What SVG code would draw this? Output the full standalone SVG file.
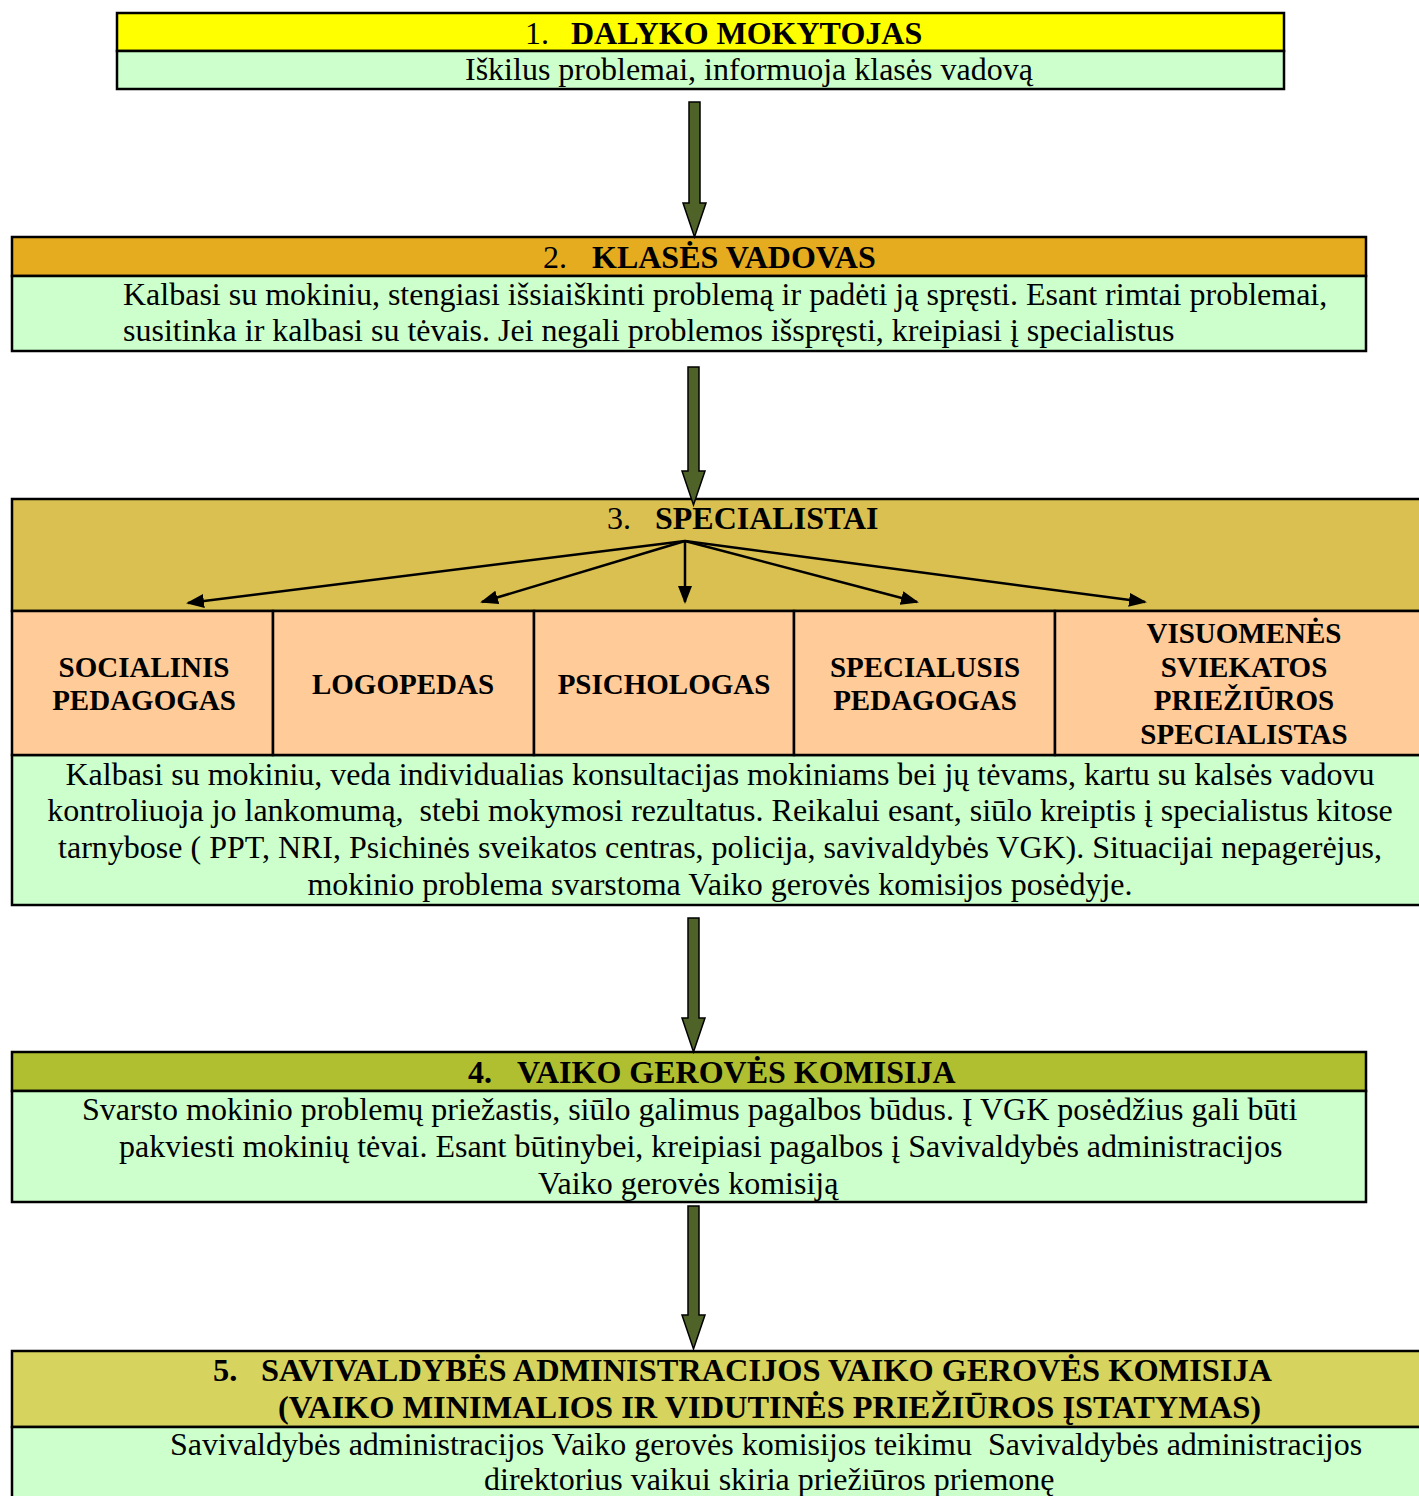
<svg xmlns="http://www.w3.org/2000/svg" width="1419" height="1496" viewBox="0 0 1419 1496">
<style>
.box{stroke:#000;stroke-width:2.5}
.body{fill:#CCFFCC}
.t{font-family:"Liberation Serif","Times New Roman",serif;font-size:32px;fill:#000;white-space:pre}
.b{font-weight:bold}
.cell{font-family:"Liberation Serif","Times New Roman",serif;font-size:29px;font-weight:bold;fill:#000;text-anchor:middle}
.c{text-anchor:middle}
.big{fill:#4F6228;stroke:#000;stroke-width:1.5}
.thin{stroke:#000;stroke-width:2.5;fill:none;marker-end:url(#ah)}
</style>
<defs>
<marker id="ah" markerWidth="18" markerHeight="14" refX="16" refY="7" orient="auto" markerUnits="userSpaceOnUse">
<path d="M0,0 L18,7 L0,14 z" fill="#000"/>
</marker>
</defs>
<rect width="1419" height="1496" fill="#fff"/>

<g id="node1">
<rect class="box" x="117" y="13" width="1167" height="38" fill="#FFFF00"/>
<rect class="box body" x="117" y="51" width="1167" height="38"/>
<text class="t" x="525" y="44">1.<tspan class="b" x="571">DALYKO MOKYTOJAS</tspan></text>
<text class="t" x="465" y="80">Iškilus problemai, informuoja klasės vadovą</text>
</g>

<g id="node2">
<rect class="box" x="12" y="237" width="1354" height="39" fill="#E6AC20"/>
<rect class="box body" x="12" y="276" width="1354" height="75"/>
<text class="t" x="543" y="268">2.<tspan class="b" x="592">KLASĖS VADOVAS</tspan></text>
<text class="t" x="123" y="305">Kalbasi su mokiniu, stengiasi išsiaiškinti problemą ir padėti ją spręsti. Esant rimtai problemai,</text>
<text class="t" x="123" y="341">susitinka ir kalbasi su tėvais. Jei negali problemos išspręsti, kreipiasi į specialistus</text>
</g>

<g id="node3">
<rect class="box" x="12" y="499" width="1420" height="112" fill="#DAC050"/>
<text class="t" x="607" y="529">3.<tspan class="b" x="655">SPECIALISTAI</tspan></text>
<rect class="box body" x="12" y="755" width="1420" height="150"/>
<text class="t c" x="720" y="785">Kalbasi su mokiniu, veda individualias konsultacijas mokiniams bei jų tėvams, kartu su kalsės vadovu</text>
<text class="t c" x="720" y="821" xml:space="preserve">kontroliuoja jo lankomumą,  stebi mokymosi rezultatus. Reikalui esant, siūlo kreiptis į specialistus kitose</text>
<text class="t c" x="720" y="858">tarnybose ( PPT, NRI, Psichinės sveikatos centras, policija, savivaldybės VGK). Situacijai nepagerėjus,</text>
<text class="t c" x="720" y="895">mokinio problema svarstoma Vaiko gerovės komisijos posėdyje.</text>
</g>

<g id="cell-socialinis">
<rect class="box" x="12" y="611" width="261" height="144" fill="#FFCC99"/>
<text class="cell" x="144" y="677">SOCIALINIS</text>
<text class="cell" x="144" y="710">PEDAGOGAS</text>
</g>
<g id="cell-logopedas">
<rect class="box" x="273" y="611" width="261" height="144" fill="#FFCC99"/>
<text class="cell" x="403" y="694">LOGOPEDAS</text>
</g>
<g id="cell-psichologas">
<rect class="box" x="534" y="611" width="260" height="144" fill="#FFCC99"/>
<text class="cell" x="664" y="694">PSICHOLOGAS</text>
</g>
<g id="cell-specialusis">
<rect class="box" x="794" y="611" width="261" height="144" fill="#FFCC99"/>
<text class="cell" x="925" y="677">SPECIALUSIS</text>
<text class="cell" x="925" y="710">PEDAGOGAS</text>
</g>
<g id="cell-visuomenes">
<rect class="box" x="1055" y="611" width="377" height="144" fill="#FFCC99"/>
<text class="cell" x="1244" y="643">VISUOMENĖS</text>
<text class="cell" x="1244" y="677">SVIEKATOS</text>
<text class="cell" x="1244" y="710">PRIEŽIŪROS</text>
<text class="cell" x="1244" y="744">SPECIALISTAS</text>
</g>

<g id="node4">
<rect class="box" x="12" y="1052" width="1354" height="39" fill="#B0BF30"/>
<rect class="box body" x="12" y="1091" width="1354" height="111"/>
<text class="t b" x="468" y="1083">4.<tspan x="517">VAIKO GEROVĖS KOMISIJA</tspan></text>
<text class="t" x="82" y="1120">Svarsto mokinio problemų priežastis, siūlo galimus pagalbos būdus. Į VGK posėdžius gali būti</text>
<text class="t" x="119" y="1157">pakviesti mokinių tėvai. Esant būtinybei, kreipiasi pagalbos į Savivaldybės administracijos</text>
<text class="t" x="538" y="1194">Vaiko gerovės komisiją</text>
</g>

<g id="node5">
<rect class="box" x="12" y="1351" width="1420" height="76" fill="#D6D45E"/>
<rect class="box body" x="12" y="1427" width="1420" height="80"/>
<text class="t b" x="213" y="1381" style="font-size:32.4px">5.<tspan x="261">SAVIVALDYBĖS ADMINISTRACIJOS VAIKO GEROVĖS KOMISIJA</tspan></text>
<text class="t b" x="278" y="1418" style="font-size:32.4px">(VAIKO MINIMALIOS IR VIDUTINĖS PRIEŽIŪROS ĮSTATYMAS)</text>
<text class="t" x="170" y="1455" xml:space="preserve">Savivaldybės administracijos Vaiko gerovės komisijos teikimu  Savivaldybės administracijos</text>
<text class="t" x="484" y="1490">direktorius vaikui skiria priežiūros priemonę</text>
</g>

<g id="connectors">
<path class="big" d="M689,102 H700 V203 H706 L694.5,237 L683,203 H689 Z"/>
<path class="big" d="M688,367 H699 V471 H705 L693.5,505 L682,471 H688 Z"/>
<path class="big" d="M688,918 H699 V1018 H705 L693.5,1052 L682,1018 H688 Z"/>
<path class="big" d="M688,1206 H699 V1315 H705 L693.5,1349 L682,1315 H688 Z"/>
<line class="thin" x1="685" y1="541" x2="188" y2="603"/>
<line class="thin" x1="685" y1="541" x2="482" y2="602"/>
<line class="thin" x1="685" y1="541" x2="685" y2="602"/>
<line class="thin" x1="685" y1="541" x2="917" y2="602"/>
<line class="thin" x1="685" y1="541" x2="1145" y2="602"/>
</g>
</svg>
